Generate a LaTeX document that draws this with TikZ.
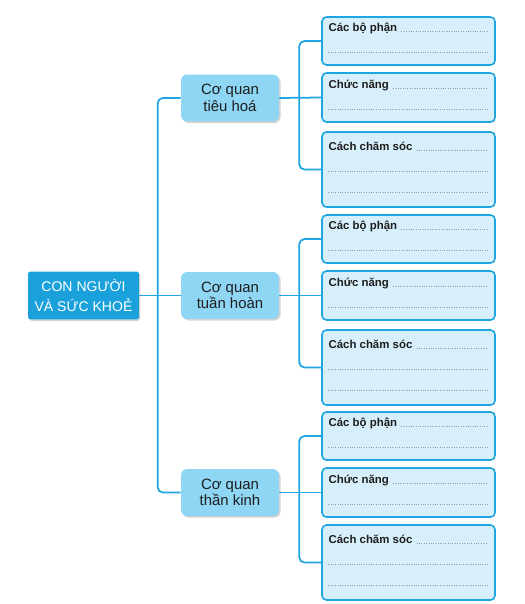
\documentclass[tikz,border=0pt]{standalone}
\usepackage{fontspec}
\setmainfont{Liberation Sans}
\usepackage{tikz}
\usetikzlibrary{calc,shadows}

\definecolor{linkblue}{HTML}{1FA5E0}
\definecolor{rootblue}{HTML}{1AA1DC}
\definecolor{organblue}{HTML}{8ED6F4}
\definecolor{detfill}{HTML}{D7EFFA}
\definecolor{txtdark}{HTML}{1E1E1E}

\tikzset{
  link/.style={draw=linkblue, line width=1pt},
  rootbox/.style={fill=rootblue, text=white, rounded corners=1.5pt, minimum width=2.22cm, minimum height=0.96cm, align=center, inner sep=0pt, font=\fontsize{8}{11}\selectfont, drop shadow={shadow xshift=0.8pt, shadow yshift=-0.8pt, opacity=0.35}},
  organbox/.style={fill=organblue, text=txtdark, rounded corners=3.5pt, minimum width=1.96cm, minimum height=0.94cm, align=center, inner sep=0pt, font=\fontsize{8.5}{9.5}\selectfont, drop shadow={shadow xshift=0.9pt, shadow yshift=-0.9pt, opacity=0.35}},
  detbox/.style={draw=linkblue, fill=detfill, line width=0.9pt, rounded corners=2.5pt, minimum width=3.46cm, inner sep=0pt},
  detlabel/.style={text=txtdark, inner sep=0pt, font=\fontsize{6.5}{7.5}\selectfont\bfseries},
  dots/.style={draw=gray!80, line width=0.45pt, dash pattern=on 0.45pt off 0.9pt}
}

\begin{document}
\begin{tikzpicture}[x=0.02cm, y=-0.02cm]
\useasboundingbox (0,0) rectangle (524,604);

% root and organs
\node[rootbox] (root) at (83.5,295.5) {CON NGƯỜI\\VÀ SỨC KHOẺ};
\node[organbox] (to1) at (230,98) {Cơ quan\\tiêu hoá};
\node[organbox] (to2) at (230,295.5) {Cơ quan\\tuần hoàn};
\node[organbox] (to3) at (230,492.5) {Cơ quan\\thần kinh};

\draw[link] (root.east) -- (to2.west);
\draw[link, rounded corners=3pt] (to1.west) -- ++(-23,0) |- (to3.west);

% tieu hoa
\node[detbox, minimum height=0.96cm] (tb1) at (408.5,41) {};
\node[detbox, minimum height=0.98cm] (tb2) at (408.5,97.5) {};
\node[detbox, minimum height=1.5cm] (tb3) at (408.5,169.5) {};
\node[detlabel, anchor=base west] (tl1) at ($(tb1.north west)+(7,15)$) {Các bộ phận};
\node[detlabel, anchor=base west] (tl2) at ($(tb2.north west)+(7,16)$) {Chức năng};
\node[detlabel, anchor=base west] (tl3) at ($(tb3.north west)+(7,19)$) {Cách chăm sóc};
\draw[dots] ($(tl1.base east)+(4,0)$) -- ($(tb1.north east)+(-8,15)$);
\draw[dots] ($(tb1.north west)+(7,36)$) -- ($(tb1.north east)+(-8,36)$);
\draw[dots] ($(tl2.base east)+(4,0)$) -- ($(tb2.north east)+(-8,16)$);
\draw[dots] ($(tb2.north west)+(7,37)$) -- ($(tb2.north east)+(-8,37)$);
\draw[dots] ($(tl3.base east)+(4,0)$) -- ($(tb3.north east)+(-8,19)$);
\draw[dots] ($(tb3.north west)+(7,40)$) -- ($(tb3.north east)+(-8,40)$);
\draw[dots] ($(tb3.north west)+(7,61)$) -- ($(tb3.north east)+(-8,61)$);

\draw[link] (to1.east) -- (tb2.west);
\draw[link, rounded corners=3pt] (tb1.west) -- ++(-22,0) |- (tb3.west);

% tuan hoan
\node[detbox, minimum height=0.96cm] (hb1) at (408.5,239) {};
\node[detbox, minimum height=0.98cm] (hb2) at (408.5,295.5) {};
\node[detbox, minimum height=1.5cm] (hb3) at (408.5,367.5) {};
\node[detlabel, anchor=base west] (hl1) at ($(hb1.north west)+(7,15)$) {Các bộ phận};
\node[detlabel, anchor=base west] (hl2) at ($(hb2.north west)+(7,16)$) {Chức năng};
\node[detlabel, anchor=base west] (hl3) at ($(hb3.north west)+(7,19)$) {Cách chăm sóc};
\draw[dots] ($(hl1.base east)+(4,0)$) -- ($(hb1.north east)+(-8,15)$);
\draw[dots] ($(hb1.north west)+(7,36)$) -- ($(hb1.north east)+(-8,36)$);
\draw[dots] ($(hl2.base east)+(4,0)$) -- ($(hb2.north east)+(-8,16)$);
\draw[dots] ($(hb2.north west)+(7,37)$) -- ($(hb2.north east)+(-8,37)$);
\draw[dots] ($(hl3.base east)+(4,0)$) -- ($(hb3.north east)+(-8,19)$);
\draw[dots] ($(hb3.north west)+(7,40)$) -- ($(hb3.north east)+(-8,40)$);
\draw[dots] ($(hb3.north west)+(7,61)$) -- ($(hb3.north east)+(-8,61)$);

\draw[link] (to2.east) -- (hb2.west);
\draw[link, rounded corners=3pt] (hb1.west) -- ++(-22,0) |- (hb3.west);

% than kinh
\node[detbox, minimum height=0.96cm] (kb1) at (408.5,436) {};
\node[detbox, minimum height=0.98cm] (kb2) at (408.5,492.5) {};
\node[detbox, minimum height=1.5cm] (kb3) at (408.5,562.5) {};
\node[detlabel, anchor=base west] (kl1) at ($(kb1.north west)+(7,15)$) {Các bộ phận};
\node[detlabel, anchor=base west] (kl2) at ($(kb2.north west)+(7,16)$) {Chức năng};
\node[detlabel, anchor=base west] (kl3) at ($(kb3.north west)+(7,19)$) {Cách chăm sóc};
\draw[dots] ($(kl1.base east)+(4,0)$) -- ($(kb1.north east)+(-8,15)$);
\draw[dots] ($(kb1.north west)+(7,36)$) -- ($(kb1.north east)+(-8,36)$);
\draw[dots] ($(kl2.base east)+(4,0)$) -- ($(kb2.north east)+(-8,16)$);
\draw[dots] ($(kb2.north west)+(7,37)$) -- ($(kb2.north east)+(-8,37)$);
\draw[dots] ($(kl3.base east)+(4,0)$) -- ($(kb3.north east)+(-8,19)$);
\draw[dots] ($(kb3.north west)+(7,40)$) -- ($(kb3.north east)+(-8,40)$);
\draw[dots] ($(kb3.north west)+(7,61)$) -- ($(kb3.north east)+(-8,61)$);

\draw[link] (to3.east) -- (kb2.west);
\draw[link, rounded corners=3pt] (kb1.west) -- ++(-22,0) |- (kb3.west);

\end{tikzpicture}
\end{document}
